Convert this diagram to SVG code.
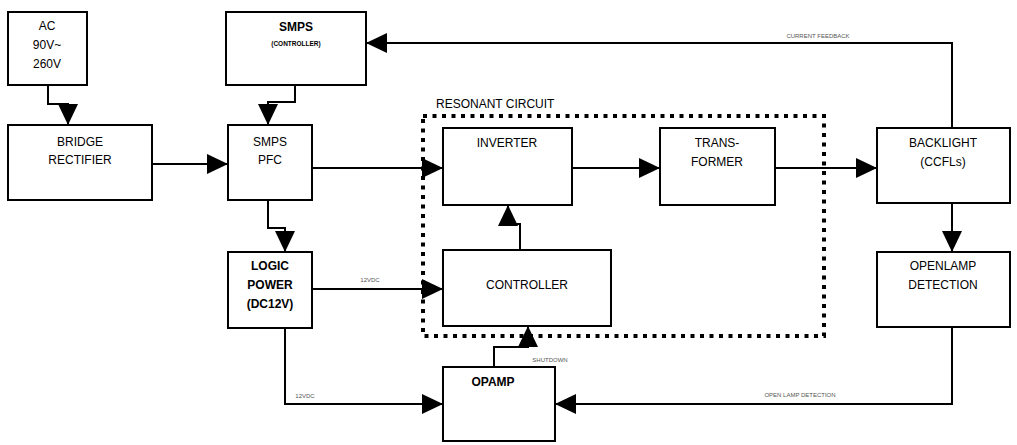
<svg xmlns="http://www.w3.org/2000/svg" width="1017" height="445" viewBox="0 0 1017 445">
<style>
.box{fill:#fff;stroke:#000;stroke-width:2}
.t{font-family:"Liberation Sans",Arial,sans-serif;font-size:12px;fill:#000;text-anchor:middle}
.s{font-family:"Liberation Sans",Arial,sans-serif;font-size:6px;fill:#555;text-anchor:middle}
.w{fill:none;stroke:#000;stroke-width:2}
.dot{fill:none;stroke:#000;stroke-width:4;stroke-dasharray:4 5.5}
</style>
<defs>
<marker id="ah" markerUnits="userSpaceOnUse" markerWidth="22" markerHeight="22" refX="21" refY="10" orient="auto">
<path d="M0,0 L21,10 L0,20 z" fill="#000"/>
</marker>
</defs>
<rect width="1017" height="445" fill="#fff"/>
<g id="resonant">
<rect class="dot" x="423" y="116" width="401" height="220"/>
<text class="t" x="436" y="108" style="text-anchor:start">RESONANT CIRCUIT</text>
</g>
<g id="connectors">
<polyline class="w" points="48,85 48,104 68,104 68,125" marker-end="url(#ah)"/>
<line class="w" x1="152" y1="164" x2="228" y2="164" marker-end="url(#ah)"/>
<polyline class="w" points="295,85 295,102 268,102 268,125" marker-end="url(#ah)"/>
<line class="w" x1="312" y1="168" x2="443" y2="168" marker-end="url(#ah)"/>
<line class="w" x1="572" y1="168" x2="660" y2="168" marker-end="url(#ah)"/>
<line class="w" x1="775" y1="168" x2="877" y2="168" marker-end="url(#ah)"/>
<polyline class="w" points="952,128 952,43 366,43" marker-end="url(#ah)"/>
<text class="s" x="818" y="38">CURRENT FEEDBACK</text>
<line class="w" x1="952" y1="203" x2="952" y2="252" marker-end="url(#ah)"/>
<polyline class="w" points="268,200 268,228 285,228 285,252" marker-end="url(#ah)"/>
<line class="w" x1="312" y1="289" x2="443" y2="289" marker-end="url(#ah)"/>
<text class="s" x="370" y="282">12VDC</text>
<polyline class="w" points="285,328 285,404 443,404" marker-end="url(#ah)"/>
<text class="s" x="305" y="398">12VDC</text>
<polyline class="w" points="952,327 952,404 555,404" marker-end="url(#ah)"/>
<text class="s" x="800" y="397">OPEN LAMP DETECTION</text>
<polyline class="w" points="520,250 520,224 508,224 508,205" marker-end="url(#ah)"/>
<polyline class="w" points="494,367 494,347 528,347 528,326" marker-end="url(#ah)"/>
<text class="s" x="550" y="362">SHUTDOWN</text>
</g>
<g id="ac">
<rect class="box" x="8" y="12" width="79" height="73"/>
<text class="t" x="47" y="30">AC</text>
<text class="t" x="47" y="49">90V~</text>
<text class="t" x="47" y="68">260V</text>
</g>
<g id="bridge">
<rect class="box" x="8" y="125" width="144" height="75"/>
<text class="t" x="80" y="146">BRIDGE</text>
<text class="t" x="80" y="164">RECTIFIER</text>
</g>
<g id="smpsctrl">
<rect class="box" x="226" y="12" width="140" height="73"/>
<text class="t" x="296" y="31" style="font-weight:bold;font-size:12px">SMPS</text>
<text class="t" x="296" y="46" style="font-weight:bold;font-size:6.5px">(CONTROLLER)</text>
</g>
<g id="smpspfc">
<rect class="box" x="228" y="125" width="84" height="75"/>
<text class="t" x="270" y="146">SMPS</text>
<text class="t" x="270" y="164">PFC</text>
</g>
<g id="logic">
<rect class="box" x="228" y="252" width="84" height="76"/>
<text class="t" x="270" y="270" style="font-weight:bold">LOGIC</text>
<text class="t" x="270" y="289" style="font-weight:bold">POWER</text>
<text class="t" x="270" y="308" style="font-weight:bold">(DC12V)</text>
</g>
<g id="inverter">
<rect class="box" x="443" y="128" width="129" height="77"/>
<text class="t" x="507" y="147">INVERTER</text>
</g>
<g id="transformer">
<rect class="box" x="660" y="128" width="115" height="77"/>
<text class="t" x="717" y="147">TRANS-</text>
<text class="t" x="717" y="166">FORMER</text>
</g>
<g id="controller">
<rect class="box" x="443" y="250" width="168" height="76"/>
<text class="t" x="527" y="289">CONTROLLER</text>
</g>
<g id="opamp">
<rect class="box" x="443" y="367" width="112" height="74"/>
<text class="t" x="493" y="386" style="font-weight:bold">OPAMP</text>
</g>
<g id="backlight">
<rect class="box" x="877" y="128" width="133" height="75"/>
<text class="t" x="943" y="147">BACKLIGHT</text>
<text class="t" x="943" y="166">(CCFLs)</text>
</g>
<g id="openlamp">
<rect class="box" x="877" y="252" width="133" height="75"/>
<text class="t" x="943" y="270">OPENLAMP</text>
<text class="t" x="943" y="289">DETECTION</text>
</g>
</svg>
